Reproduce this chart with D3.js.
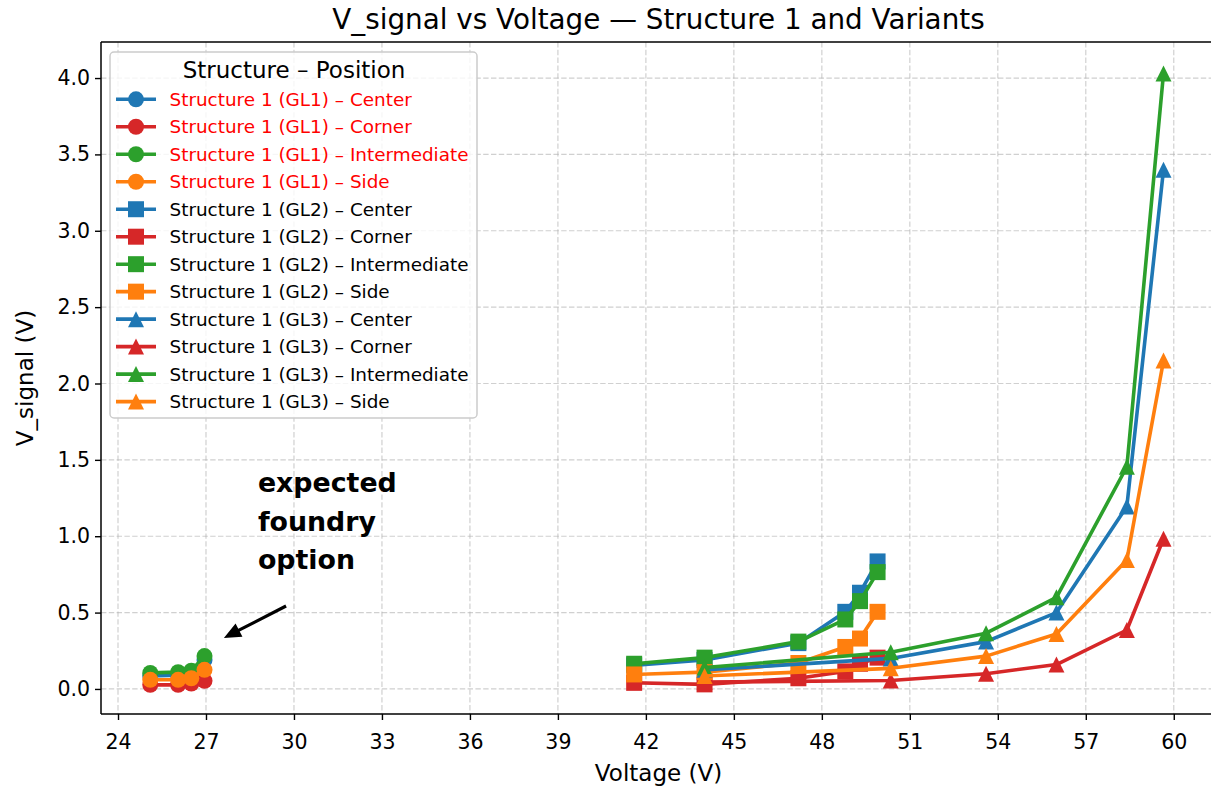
<!DOCTYPE html>
<html>
<head>
<meta charset="utf-8">
<script src="https://cdn.jsdelivr.net/npm/d3@7"></script>
<style>
  html, body { margin: 0; padding: 0; background: #fff; }
  svg { display: block; font-family: "DejaVu Sans", sans-serif; }
</style>
</head>
<body>
<svg id="chart" width="1211" height="788"></svg>
<script>
// ---------------- data ----------------
const positions = ["Center", "Corner", "Intermediate", "Side"];
const gateLevels = ["GL1", "GL2", "GL3"];

const gl1Voltage = [25.1, 26.05, 26.5, 26.95];
const gl1Center = [0.085, 0.09, 0.105, 0.19];
const gl1Corner = [0.027, 0.027, 0.035, 0.053];
const gl1Intermediate = [0.105, 0.11, 0.12, 0.215];
const gl1Side = [0.06, 0.06, 0.07, 0.125];

const gl2Voltage = [41.6, 44.0, 47.2, 48.8, 49.3, 49.9];
const gl2Center = [0.155, 0.19, 0.30, 0.505, 0.63, 0.835];
const gl2Corner = [0.04, 0.03, 0.07, 0.115, 0.165, 0.205];
const gl2Intermediate = [0.165, 0.205, 0.31, 0.455, 0.575, 0.765];
const gl2Side = [0.095, 0.11, 0.17, 0.275, 0.33, 0.505];

const gl3Voltage = [44.0, 50.35, 53.6, 56.0, 58.4, 59.65];
const gl3Center = [0.125, 0.20, 0.31, 0.50, 1.195, 3.40];
const gl3Corner = [0.045, 0.055, 0.10, 0.16, 0.386, 0.984];
const gl3Intermediate = [0.14, 0.24, 0.365, 0.60, 1.455, 4.03];
const gl3Side = [0.085, 0.135, 0.215, 0.36, 0.844, 2.15];

const xTicks = [24, 27, 30, 33, 36, 39, 42, 45, 48, 51, 54, 57, 60];
const yTicks = [0.0, 0.5, 1.0, 1.5, 2.0, 2.5, 3.0, 3.5, 4.0];

const titleText = "V_signal vs Voltage \u2014 Structure 1 and Variants";
const xLabelText = "Voltage (V)";
const yLabelText = "V_signal (V)";
const legendTitle = "Structure \u2013 Position";
const annotationLines = ["expected", "foundry", "option"];
const annotationTip = [27.61, 0.334];
const annotationTail = [29.73, 0.543];
const annotationText = [28.77, 1.28];

// ---------------- build series ----------------
const palette = { Center: "#1f77b4", Corner: "#d62728", Intermediate: "#2ca02c", Side: "#ff7f0e" };
const markerOf = { GL1: "circle", GL2: "square", GL3: "triangle" };
const valuesByGL = {
  GL1: { v: gl1Voltage, Center: gl1Center, Corner: gl1Corner, Intermediate: gl1Intermediate, Side: gl1Side },
  GL2: { v: gl2Voltage, Center: gl2Center, Corner: gl2Corner, Intermediate: gl2Intermediate, Side: gl2Side },
  GL3: { v: gl3Voltage, Center: gl3Center, Corner: gl3Corner, Intermediate: gl3Intermediate, Side: gl3Side }
};
const series = [];
gateLevels.forEach(gl => {
  positions.forEach(pos => {
    const vs = valuesByGL[gl].v, ys = valuesByGL[gl][pos];
    series.push({
      name: `Structure 1 (${gl}) \u2013 ${pos}`,
      gl, pos,
      color: palette[pos],
      marker: markerOf[gl],
      labelColor: gl === "GL1" ? "#ff0000" : "#000000",
      points: vs.map((x, i) => ({ x, y: ys[i] }))
    });
  });
});

// ---------------- layout ----------------
const svg = d3.select("#chart");
const W = 1211, H = 788;
const plot = { left: 101, right: 1216, top: 42, bottom: 714 };

const x = d3.scaleLinear().domain([23.42, 61.44]).range([plot.left, plot.right]);
const y = d3.scaleLinear().domain([-0.164, 4.236]).range([plot.bottom, plot.top]);

svg.append("rect").attr("width", W).attr("height", H).attr("fill", "#fff");

// grid
const grid = svg.append("g");
grid.selectAll("line.gx").data(xTicks).enter().append("line")
  .attr("x1", d => x(d)).attr("x2", d => x(d))
  .attr("y1", plot.top).attr("y2", plot.bottom)
  .attr("stroke", "#b0b0b0").attr("stroke-opacity", 0.6)
  .attr("stroke-width", 1.2).attr("stroke-dasharray", "5.4,2.4");
grid.selectAll("line.gy").data(yTicks).enter().append("line")
  .attr("x1", plot.left).attr("x2", plot.right)
  .attr("y1", d => y(d)).attr("y2", d => y(d))
  .attr("stroke", "#b0b0b0").attr("stroke-opacity", 0.6)
  .attr("stroke-width", 1.2).attr("stroke-dasharray", "5.4,2.4");

// axes
const xAxis = d3.axisBottom(x).tickValues(xTicks).tickFormat(d3.format("d")).tickSize(6).tickPadding(5);
const yAxis = d3.axisLeft(y).tickValues(yTicks).tickFormat(d3.format(".1f")).tickSize(6).tickPadding(5);

const gx = svg.append("g").attr("transform", `translate(0,${plot.bottom})`).call(xAxis);
const gy = svg.append("g").attr("transform", `translate(${plot.left},0)`).call(yAxis);
[gx, gy].forEach(g => {
  g.select(".domain").remove();
  g.selectAll(".tick line").attr("stroke", "#000").attr("stroke-width", 1.4);
  g.selectAll(".tick text").attr("fill", "#000").style("font-size", "20.5px")
    .style("font-family", "DejaVu Sans, sans-serif");
});
gx.selectAll(".tick text").attr("dy", "1.15em");

// spines
svg.append("line").attr("x1", plot.left).attr("x2", plot.left).attr("y1", plot.top).attr("y2", plot.bottom)
  .attr("stroke", "#000").attr("stroke-width", 1.5);
svg.append("line").attr("x1", plot.left).attr("x2", plot.right).attr("y1", plot.bottom).attr("y2", plot.bottom)
  .attr("stroke", "#000").attr("stroke-width", 1.5);
svg.append("line").attr("x1", plot.left).attr("x2", plot.right).attr("y1", plot.top).attr("y2", plot.top)
  .attr("stroke", "#000").attr("stroke-width", 1.5);
svg.append("line").attr("x1", plot.right).attr("x2", plot.right).attr("y1", plot.top).attr("y2", plot.bottom)
  .attr("stroke", "#000").attr("stroke-width", 1.5);

// marker shapes
const MS = 16;
function markerPath(type, s) {
  const h = s / 2;
  if (type === "circle") return d3.symbol().type(d3.symbolCircle).size(Math.PI * h * h)();
  if (type === "square") return `M${-h},${-h}L${h},${-h}L${h},${h}L${-h},${h}Z`;
  return `M0,${-h}L${h},${h}L${-h},${h}Z`;
}

// series
const line = d3.line().x(d => x(d.x)).y(d => y(d.y));
const gSeries = svg.append("g");
series.forEach(s => {
  const g = gSeries.append("g");
  g.append("path").attr("d", line(s.points)).attr("fill", "none")
    .attr("stroke", s.color).attr("stroke-width", 3.6).attr("stroke-linejoin", "round").attr("stroke-linecap", "square");
  g.selectAll("path.m").data(s.points).enter().append("path")
    .attr("d", markerPath(s.marker, MS))
    .attr("transform", d => `translate(${x(d.x)},${y(d.y)})`)
    .attr("fill", s.color);
});

// title & labels
svg.append("text").attr("x", (plot.left + plot.right) / 2).attr("y", 29)
  .attr("text-anchor", "middle").style("font-size", "27.8px").attr("fill", "#000").text(titleText);
svg.append("text").attr("x", (plot.left + plot.right) / 2).attr("y", 781)
  .attr("text-anchor", "middle").style("font-size", "23px").attr("fill", "#000").text(xLabelText);
svg.append("text").attr("transform", `translate(33,${(plot.top + plot.bottom) / 2}) rotate(-90)`)
  .attr("text-anchor", "middle").style("font-size", "23px").attr("fill", "#000").text(yLabelText);

// annotation
const tip = [x(annotationTip[0]), y(annotationTip[1])];
const tail = [x(annotationTail[0]), y(annotationTail[1])];
(function drawArrow() {
  const dx = tip[0] - tail[0], dy = tip[1] - tail[1];
  const len = Math.hypot(dx, dy), ux = dx / len, uy = dy / len, nx = -uy, ny = ux;
  const headLen = 17, headW = 7.5, shaftW = 1.6;
  const bx = tip[0] - ux * headLen, by = tip[1] - uy * headLen;
  const pts = [
    [tail[0] + nx * shaftW, tail[1] + ny * shaftW],
    [bx + nx * shaftW, by + ny * shaftW],
    [bx + nx * headW, by + ny * headW],
    tip,
    [bx - nx * headW, by - ny * headW],
    [bx - nx * shaftW, by - ny * shaftW],
    [tail[0] - nx * shaftW, tail[1] - ny * shaftW]
  ];
  svg.append("path").attr("d", "M" + pts.map(p => p.join(",")).join("L") + "Z").attr("fill", "#000");
})();
const ann = svg.append("text").attr("x", x(annotationText[0])).attr("y", 0)
  .style("font-family", "'Comic Sans MS', 'DejaVu Sans', sans-serif")
  .style("font-weight", "bold").style("font-size", "26.8px").attr("fill", "#000");
annotationLines.forEach((t, i) => {
  ann.append("tspan").attr("x", x(annotationText[0])).attr("y", 492 + i * 38.5).text(t);
});

// legend
const lg = svg.append("g");
const lgX = 110, lgY = 52, lgW = 367, lgH = 366;
lg.append("rect").attr("x", lgX).attr("y", lgY).attr("width", lgW).attr("height", lgH)
  .attr("rx", 4).attr("fill", "#fff").attr("fill-opacity", 0.8)
  .attr("stroke", "#cccccc").attr("stroke-width", 1.5);
lg.append("text").attr("x", 294).attr("y", 77.5).attr("text-anchor", "middle")
  .style("font-size", "23px").attr("fill", "#000").text(legendTitle);
series.forEach((s, i) => {
  const cy = 99.3 + i * 27.48;
  lg.append("line").attr("x1", 116).attr("x2", 156).attr("y1", cy).attr("y2", cy)
    .attr("stroke", s.color).attr("stroke-width", 3.6);
  lg.append("path").attr("d", markerPath(s.marker, MS)).attr("transform", `translate(136,${cy})`).attr("fill", s.color);
  lg.append("text").attr("x", 169.5).attr("y", cy).attr("dy", "0.36em")
    .style("font-size", "18.4px").attr("fill", s.labelColor).text(s.name);
});
</script>
</body>
</html>
